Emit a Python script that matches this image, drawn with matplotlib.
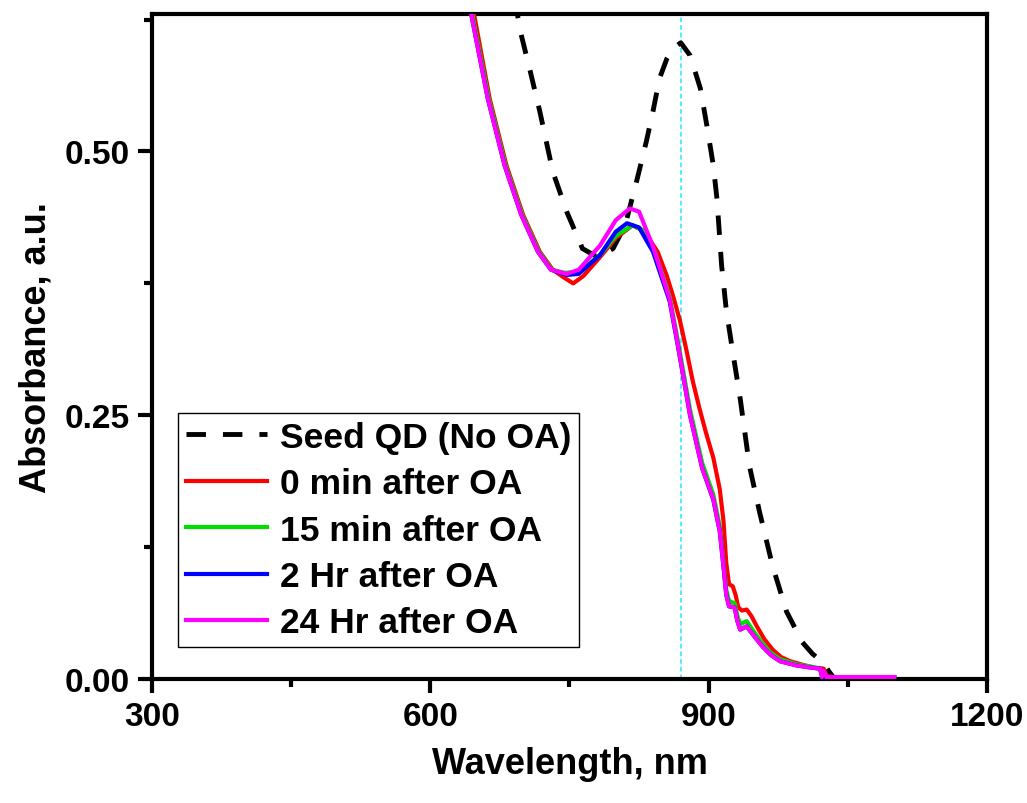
import matplotlib.pyplot as plt
from matplotlib.ticker import MultipleLocator

# Seed QD (no OA)
wl_seed = [688, 697, 708, 718, 732, 747, 764, 780, 797, 810, 823, 833, 840, 847, 855,
           862, 870, 880, 891, 898, 905, 909, 914, 919, 926, 934, 944, 955, 969, 984,
           1001, 1012, 1023, 1030, 1036]
ab_seed = [0.66, 0.614, 0.575, 0.538, 0.481, 0.443, 0.408, 0.400, 0.408, 0.430, 0.474,
           0.510, 0.538, 0.569, 0.588, 0.598, 0.603, 0.591, 0.560, 0.525, 0.487, 0.455,
           0.392, 0.350, 0.310, 0.266, 0.202, 0.158, 0.107, 0.064, 0.035, 0.024, 0.016,
           0.007, 0.0]

wl_0min = [640, 648, 664, 682, 700, 718, 732, 745, 754, 765, 783, 800, 818, 830, 845,
           855, 862, 869, 876, 883, 890, 897, 905, 912, 916, 919, 922, 926, 929, 932,
           936, 941, 946, 952, 960, 969, 978, 988, 1000, 1013, 1024, 1027, 1035, 1100]
ab_0min = [0.66, 0.626, 0.55, 0.487, 0.44, 0.405, 0.388, 0.38, 0.375, 0.382, 0.400,
           0.418, 0.430, 0.425, 0.405, 0.382, 0.362, 0.340, 0.312, 0.282, 0.257, 0.234,
           0.210, 0.180, 0.150, 0.110, 0.090, 0.088, 0.080, 0.068, 0.065, 0.066, 0.060,
           0.050, 0.038, 0.028, 0.021, 0.017, 0.014, 0.011, 0.010, 0.003, 0.002, 0.002]

wl_15min = [639, 646, 663, 681, 699, 717, 731, 745, 760, 783, 800, 818, 830, 842, 858,
            867, 880, 893, 905, 912, 916, 919, 922, 928, 931, 934, 941, 948, 958, 967,
            977, 995, 1010, 1020, 1023, 1027, 1100]
ab_15min = [0.66, 0.626, 0.55, 0.487, 0.44, 0.405, 0.388, 0.385, 0.386, 0.402, 0.420,
            0.430, 0.425, 0.405, 0.362, 0.320, 0.255, 0.205, 0.175, 0.145, 0.110, 0.085,
            0.074, 0.072, 0.060, 0.052, 0.055, 0.046, 0.034, 0.025, 0.019, 0.014, 0.012,
            0.010, 0.002, 0.002, 0.002]

wl_2hr = [638, 645, 662, 680, 698, 716, 730, 747, 760, 783, 800, 812, 825, 840, 858,
          867, 880, 893, 905, 912, 916, 919, 922, 928, 931, 934, 941, 948, 958, 967,
          977, 995, 1010, 1020, 1023, 1027, 1100]
ab_2hr = [0.66, 0.626, 0.55, 0.487, 0.44, 0.405, 0.388, 0.383, 0.384, 0.402, 0.424,
          0.432, 0.428, 0.405, 0.358, 0.315, 0.250, 0.200, 0.170, 0.140, 0.107, 0.080,
          0.069, 0.068, 0.055, 0.047, 0.050, 0.042, 0.031, 0.023, 0.017, 0.013, 0.011,
          0.010, 0.002, 0.002, 0.002]

wl_24hr = [638, 645, 662, 680, 698, 716, 730, 747, 760, 783, 800, 815, 825, 840, 858,
           867, 880, 893, 905, 912, 916, 919, 922, 928, 931, 934, 941, 948, 958, 967,
           977, 995, 1010, 1020, 1022, 1024, 1027, 1100]
ab_24hr = [0.66, 0.626, 0.55, 0.487, 0.44, 0.405, 0.388, 0.384, 0.388, 0.411, 0.435,
           0.446, 0.443, 0.410, 0.360, 0.316, 0.250, 0.200, 0.171, 0.140, 0.107, 0.080,
           0.069, 0.068, 0.055, 0.047, 0.050, 0.042, 0.031, 0.023, 0.017, 0.013, 0.011,
           0.010, 0.002, 0.008, 0.002, 0.002]

peak_wl = 870

plt.rcParams['font.family'] = ['Liberation Sans', 'DejaVu Sans']
plt.rcParams['font.weight'] = 'bold'

fig = plt.figure(figsize=(10.27, 8.04), dpi=100)
ax = fig.add_axes([0.148, 0.154, 0.813, 0.827])

ax.axvline(peak_wl, color='#22e8f5', lw=1.1, ls=(0, (3, 2)), zorder=1)
ax.plot(wl_seed, ab_seed, color='black', lw=3.5, ls=(0, (4, 3.5)), label='Seed QD (No OA)')
ax.plot(wl_0min, ab_0min, color='#ff0000', lw=3, label='0 min after OA', zorder=3)
ax.plot(wl_15min, ab_15min, color='#00dd00', lw=3, label='15 min after OA', zorder=3)
ax.plot(wl_2hr, ab_2hr, color='#0000ff', lw=3, label='2 Hr after OA', zorder=3)
ax.plot(wl_24hr, ab_24hr, color='#ff00ff', lw=3, label='24 Hr after OA', zorder=3)

ax.set_xlim(300, 1200)
ax.set_ylim(0, 0.63)
ax.xaxis.set_major_locator(MultipleLocator(300))
ax.xaxis.set_minor_locator(MultipleLocator(150))
ax.yaxis.set_major_locator(MultipleLocator(0.25))
ax.yaxis.set_minor_locator(MultipleLocator(0.125))
ax.yaxis.set_major_formatter(plt.FormatStrFormatter('%.2f'))

for sp in ax.spines.values():
    sp.set_linewidth(3)
ax.tick_params(which='major', direction='out', length=10, width=3, labelsize=24, pad=6)
ax.tick_params(which='minor', direction='out', length=6, width=3)

ax.set_xlabel('Wavelength, nm', fontsize=26, fontweight='bold', labelpad=10)
ax.set_ylabel('Absorbance, a.u.', fontsize=26, fontweight='bold', labelpad=8)

leg = ax.legend(loc='lower left', bbox_to_anchor=(0.031, 0.048), fontsize=25.5,
                frameon=True, fancybox=False, edgecolor='black', framealpha=1,
                handlelength=2.3, handletextpad=0.35, labelspacing=0.38,
                borderpad=0.22, borderaxespad=0)
leg.get_frame().set_linewidth(1)
leg.set_zorder(5)

fig.savefig('out.png', dpi=100)
